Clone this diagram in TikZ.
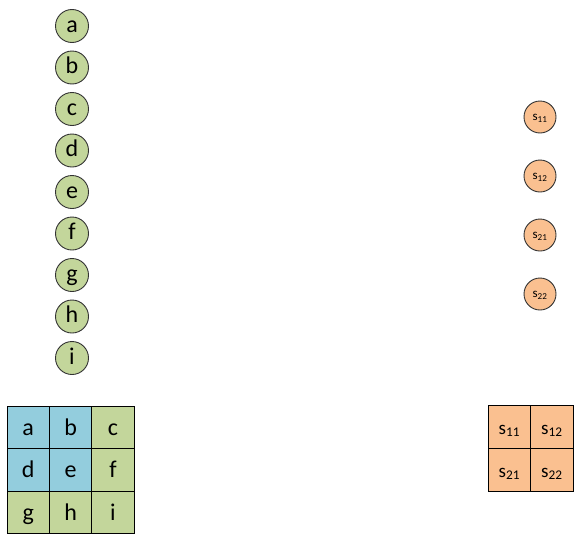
\documentclass[tikz,border=0pt]{standalone}
\usepackage{fontspec}
\setmainfont{Carlito}
\definecolor{gfill}{HTML}{C3D69B}
\definecolor{bfill}{HTML}{93CDDD}
\definecolor{ofill}{HTML}{FAC090}
\begin{document}
\begin{tikzpicture}[x=1pt,y=-1pt,
  gnode/.style={circle,draw=black!80,line width=0.9pt,fill=gfill,minimum size=33pt,inner sep=0pt,text height=14pt,text depth=2pt,font=\fontsize{24}{24}\selectfont},
  onode/.style={circle,draw=black!80,line width=0.9pt,fill=ofill,minimum size=32pt,inner sep=0pt,text height=9pt,text depth=1.6pt,font=\fontsize{13}{13}\selectfont},
  cell/.style={rectangle,draw=black,line width=0.9pt,minimum width=42.4pt,minimum height=42.6pt,inner sep=0pt,text height=18pt,text depth=2pt,font=\fontsize{24}{24}\selectfont},
  ocell/.style={rectangle,draw=black,line width=0.9pt,fill=ofill,minimum width=42.5pt,minimum height=43pt,inner sep=0pt,text height=17pt,text depth=2pt,font=\fontsize{19}{19}\selectfont}]
\useasboundingbox (0,0) rectangle (585,538);
% left circles
\foreach \t/\y [count=\i] in {a/26,b/67.5,c/109,d/150.5,e/192,f/233.5,g/275,h/316.5,i/358}
  \node[gnode] (n\t) at (72,\y) {\t};
% right circles
\node[onode] (o11) at (540,117) {s\textsubscript{11}};
\node[onode] (o12) at (540,176) {s\textsubscript{12}};
\node[onode] (o21) at (540,235) {s\textsubscript{21}};
\node[onode] (o22) at (540,294) {s\textsubscript{22}};
% left grid
\node[cell,fill=bfill] (ga) at (28.2,427.3) {a};
\node[cell,fill=bfill] (gb) at (70.6,427.3) {b};
\node[cell,fill=gfill] (gc) at (113,427.3) {c};
\node[cell,fill=bfill] (gd) at (28.2,469.9) {d};
\node[cell,fill=bfill] (ge) at (70.6,469.9) {e};
\node[cell,fill=gfill] (gf) at (113,469.9) {f};
\node[cell,fill=gfill] (gg) at (28.2,512.5) {g};
\node[cell,fill=gfill] (gh) at (70.6,512.5) {h};
\node[cell,fill=gfill] (gi) at (113,512.5) {i};
% right grid
\node[ocell] (s11) at (509.3,426.5) {s\textsubscript{11}};
\node[ocell] (s12) at (551.8,426.5) {s\textsubscript{12}};
\node[ocell] (s21) at (509.3,469.5) {s\textsubscript{21}};
\node[ocell] (s22) at (551.8,469.5) {s\textsubscript{22}};
\end{tikzpicture}
\end{document}
